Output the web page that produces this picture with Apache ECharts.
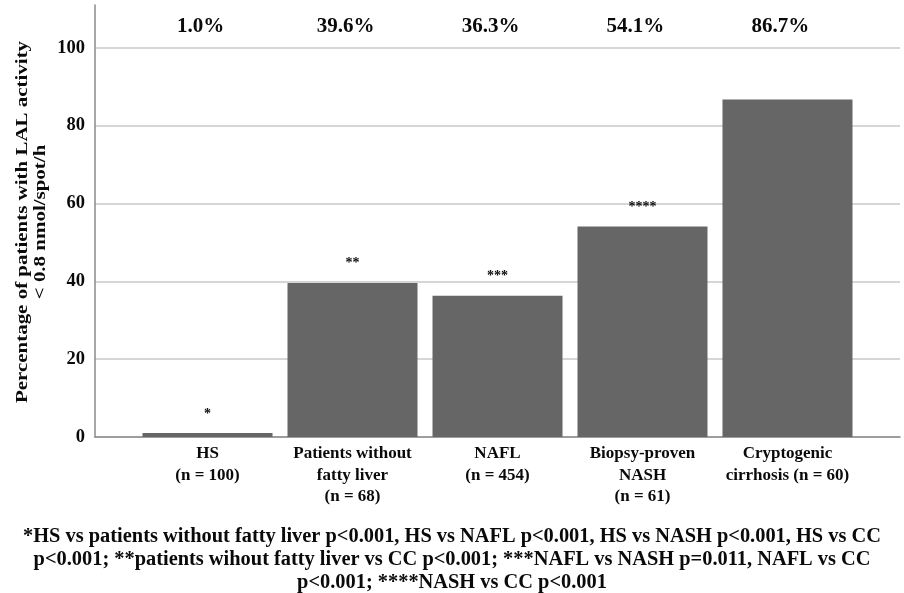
<!DOCTYPE html>
<html>
<head>
<meta charset="utf-8">
<script src="https://cdn.jsdelivr.net/npm/echarts@6/dist/echarts.min.js"></script>
<style>
  html, body { margin: 0; padding: 0; background: #fff; }
  #chart { width: 904px; height: 593px; }
</style>
</head>
<body>
<div id="chart"></div>
<script>
// Groups along the x axis
const categories = [
  'HS\n(n = 100)',
  'Patients without\nfatty liver\n(n = 68)',
  'NAFL\n(n = 454)',
  'Biopsy-proven\nNASH\n(n = 61)',
  'Cryptogenic\ncirrhosis (n = 60)'
];
// Percentage of patients with LAL activity < 0.8 nmol/spot/h
const percentages = [1.0, 39.6, 36.3, 54.1, 86.7];
// Significance markers placed above each bar
const markers = ['*', '**', '***', '****', ''];
// Y axis tick values
const yTicks = [0, 20, 40, 60, 80, 100];

const yTitle = 'Percentage of patients with LAL activity\n< 0.8 nmol/spot/h';
const footnote =
  '*HS vs patients without fatty liver p<0.001, HS vs NAFL p<0.001, HS vs NASH p<0.001, HS vs CC\n' +
  'p<0.001; **patients wihout fatty liver vs CC p<0.001; ***NAFL vs NASH p=0.011, NAFL vs CC\n' +
  'p<0.001; ****NASH vs CC p<0.001';

const FONT = '"Liberation Serif", "Times New Roman", serif';
const TEXT_COLOR = '#0a0a0a';
const BAR_COLOR = '#666666';
const PCT_ROW = 105.5;        // height (in axis units) of the percentage row
const X_PAD = 0.776;          // side padding of the category band, in category units

const chart = echarts.init(document.getElementById('chart'), null, { renderer: 'canvas' });

const barData = percentages.map((v, i) => [i, v]);
const pctData = percentages.map((v, i) => [i, PCT_ROW, v]);

chart.setOption({
  animation: false,
  backgroundColor: '#ffffff',
  title: {
    text: footnote,
    left: 'center',
    top: 520,
    textStyle: {
      fontFamily: FONT,
      fontWeight: 'bold',
      fontSize: 20.4,
      lineHeight: 23,
      color: TEXT_COLOR
    }
  },
  // Rotated y-axis title, stretched along its length
  graphic: [
    {
      type: 'text',
      x: 32,
      y: 222,
      rotation: Math.PI / 2,
      scaleX: 1.27,
      style: {
        text: yTitle,
        align: 'center',
        verticalAlign: 'middle',
        fontFamily: FONT,
        fontWeight: 'bold',
        fontSize: 16.5,
        lineHeight: 18,
        fill: TEXT_COLOR
      }
    }
  ],
  grid: { left: 95, right: 4, top: 5, bottom: 156, containLabel: false },
  xAxis: {
    type: 'value',
    min: -X_PAD,
    max: categories.length - 1 + X_PAD,
    axisLine: { show: true, onZero: false, lineStyle: { color: '#8a8a8a', width: 1.5 } },
    axisTick: { show: false },
    splitLine: { show: false },
    axisLabel: {
      customValues: categories.map((_, i) => i),
      formatter: (v) => categories[Math.round(v)],
      fontFamily: FONT,
      fontWeight: 'bold',
      fontSize: 17,
      lineHeight: 21.5,
      color: TEXT_COLOR,
      margin: 6
    }
  },
  yAxis: {
    type: 'value',
    min: 0,
    max: 111,
    interval: 20,
    axisLine: { show: true, onZero: false, lineStyle: { color: '#8a8a8a', width: 1.5 } },
    axisTick: { show: false },
    axisLabel: {
      showMaxLabel: false,
      formatter: (v) => (yTicks.includes(v) ? String(v) : ''),
      fontFamily: FONT,
      fontWeight: 'bold',
      fontSize: 18.5,
      color: TEXT_COLOR,
      margin: 10
    },
    splitLine: {
      show: true,
      showMaxLine: false,
      lineStyle: { color: '#c8c8c8', width: 1.5 }
    }
  },
  series: [
    {
      type: 'bar',
      data: barData,
      barWidth: 130,
      itemStyle: { color: BAR_COLOR },
      label: {
        show: true,
        position: 'top',
        distance: 12,
        formatter: (p) => markers[p.dataIndex],
        fontFamily: FONT,
        fontWeight: 'bold',
        fontSize: 14,
        color: TEXT_COLOR
      },
      z: 2
    },
    {
      type: 'scatter',
      data: pctData,
      symbolSize: 0,
      silent: true,
      itemStyle: { opacity: 1 },
      label: {
        show: true,
        position: 'inside',
        offset: [-7, 0],
        formatter: (p) => p.value[2].toFixed(1) + '%',
        fontFamily: FONT,
        fontWeight: 'bold',
        fontSize: 21,
        color: TEXT_COLOR,
        opacity: 1
      },
      z: 3
    }
  ]
});
</script>
</body>
</html>
